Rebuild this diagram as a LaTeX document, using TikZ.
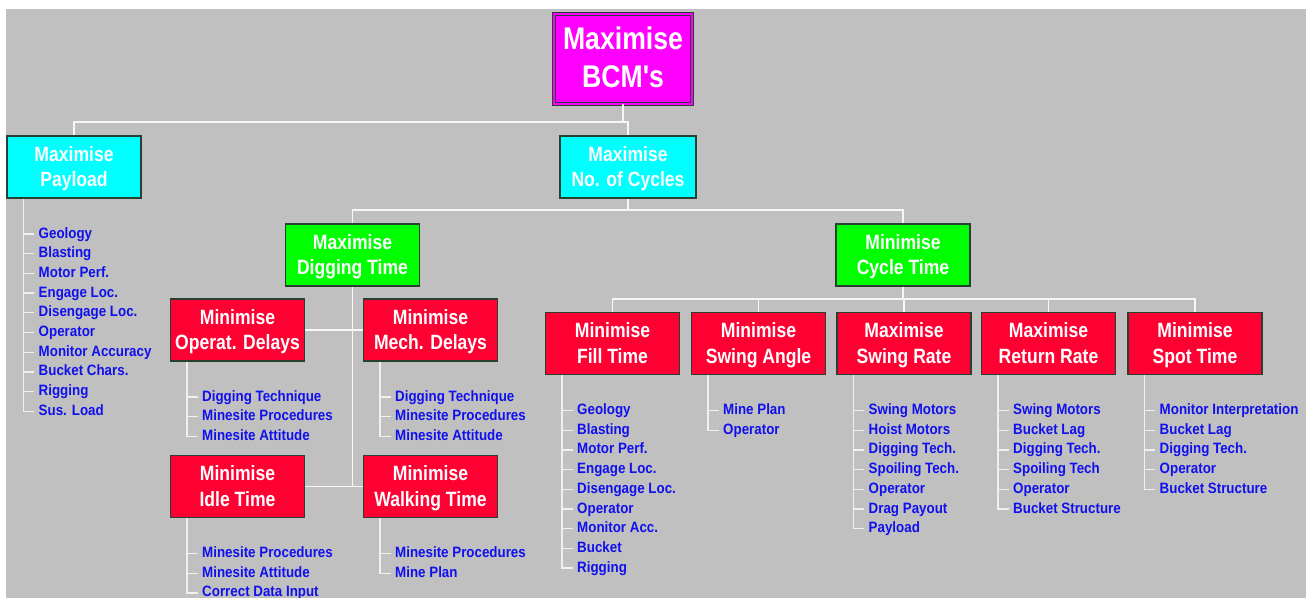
\documentclass[tikz,border=0pt]{standalone}
\usepackage{fontspec}
\setmainfont{Liberation Sans}
\newfontfamily\titlefont[FakeStretch=0.85]{Liberation Sans}
\newfontfamily\leaffont[FakeStretch=0.89]{Liberation Sans}
\usetikzlibrary{calc}
\definecolor{bg}{HTML}{C0C0C0}
\definecolor{boxred}{HTML}{FF0033}
\definecolor{boxcyan}{HTML}{00FFFF}
\definecolor{boxgreen}{HTML}{00FF00}
\definecolor{boxmag}{HTML}{FF00FF}
\definecolor{leafblue}{HTML}{1010EE}
\definecolor{edgecol}{HTML}{274030}
\newcommand\twolines[2]{#1\rule{0pt}{\dimexpr0.7\baselineskip+3pt\relax}\\#2\strut}
\newcommand\leaflist[3]{%
  \coordinate (#1v) at ($(#2.south west)+(17,0)$);
  \foreach \t [count=\i] in {#3} {
    \node[leaf] (#1\i) at ($(#1v)+(11,{35.5+19.7*(\i-1)})$) {\t};
    \draw[leafline] (#1\i.west) -- (#1\i.west -| #1v);
    \xdef\lastn{\i}
  }
  \draw[leafline] (#1v) |- (#1\lastn.west);
}
\begin{document}
\begin{tikzpicture}[x=0.75pt,y=-0.75pt,
  box/.style={draw=edgecol, line width=0.8pt, minimum width=100.5pt, minimum height=46.5pt,
    inner sep=0pt, align=center, text=white,
    font=\titlefont\bfseries\fontsize{15.5}{19}\selectfont},
  redbox/.style={box, fill=boxred},
  cyanbox/.style={box, fill=boxcyan},
  greenbox/.style={box, fill=boxgreen},
  leaf/.style={anchor=west, inner xsep=3pt, inner ysep=0pt, text=leafblue,
    text height=8pt, text depth=2pt,
    font=\leaffont\bfseries\fontsize{11.25}{13}\selectfont},
  link/.style={draw=white!97!black, line width=1.1pt},
  leafline/.style={draw=white!94!black, line width=1pt}]
\useasboundingbox (0,0) rectangle (1306,598);
\fill[white] (0,0) rectangle (1306,598);
\fill[bg] (6,9) rectangle (1306,598);

% boxes
\node[box, fill=boxmag, draw=edgecol, double=boxmag, double distance=2pt, line width=0.7pt,
  minimum width=103.5pt, minimum height=67.5pt,
  font=\titlefont\bfseries\fontsize{23.5}{28}\selectfont] (root) at (623,59) {\twolines{Maximise}{BCM's}};
\node[cyanbox] (payload) at (74,167) {\twolines{Maximise}{Payload}};
\node[cyanbox, minimum width=102pt] (cycles) at (628,167) {\twolines{Maximise}{No. of Cycles}};
\node[greenbox] (digging) at (352.5,255) {\twolines{Maximise}{Digging Time}};
\node[greenbox] (ct) at (903,255) {\twolines{Minimise}{Cycle Time}};
\node[redbox] (operat) at (237.5,330) {\twolines{Minimise}{Operat. Delays}};
\node[redbox] (mech) at (430.5,330) {\twolines{Minimise}{Mech. Delays}};
\node[redbox] (idle) at (237.5,486.5) {\twolines{Minimise}{Idle Time}};
\node[redbox] (walking) at (430.5,486.5) {\twolines{Minimise}{Walking Time}};
\node[redbox] (fill) at (612.5,343.5) {\twolines{Minimise}{Fill Time}};
\node[redbox] (angle) at (758.5,343.5) {\twolines{Minimise}{Swing Angle}};
\node[redbox] (rate) at (904,343.5) {\twolines{Maximise}{Swing Rate}};
\node[redbox] (return) at (1048.5,343.5) {\twolines{Maximise}{Return Rate}};
\node[redbox] (spot) at (1195,343.5) {\twolines{Minimise}{Spot Time}};

% tree connectors
\coordinate (j1) at (628,122);
\draw[link] (root.south) -- (root.south |- j1);
\draw[link] (payload.north) |- (j1) -- (cycles.north);
\coordinate (j2) at (628,210);
\draw[link] (cycles.south) -- (j2);
\draw[link] (digging.north) |- (j2) -| (ct.north);
\draw[link] (digging.south) -- (digging.south |- idle.east);
\draw[link] (operat.east) -- (mech.west);
\draw[link] (idle.east) -- (walking.west);
\coordinate (j4) at (903,299);
\draw[link] (ct.south) -- (j4);
\draw[link] (fill.north) |- (j4) -| (spot.north);
\draw[link] (angle.north) -- (angle.north |- j4);
\draw[link] (rate.north) -- (rate.north |- j4);
\draw[link] (return.north) -- (return.north |- j4);

% leaf lists
\leaflist{pl}{payload}{Geology,Blasting,Motor Perf.,Engage Loc.,Disengage Loc.,Operator,Monitor Accuracy,Bucket Chars.,Rigging,Sus. Load}
\leaflist{ol}{operat}{Digging Technique,Minesite Procedures,Minesite Attitude}
\leaflist{ml}{mech}{Digging Technique,Minesite Procedures,Minesite Attitude}
\leaflist{il}{idle}{Minesite Procedures,Minesite Attitude,Correct Data Input}
\leaflist{wl}{walking}{Minesite Procedures,Mine Plan}
\leaflist{fl}{fill}{Geology,Blasting,Motor Perf.,Engage Loc.,Disengage Loc.,Operator,Monitor Acc.,Bucket,Rigging}
\leaflist{al}{angle}{Mine Plan,Operator}
\leaflist{rl}{rate}{Swing Motors,Hoist Motors,Digging Tech.,Spoiling Tech.,Operator,Drag Payout,Payload}
\leaflist{tl}{return}{Swing Motors,Bucket Lag,Digging Tech.,Spoiling Tech,Operator,Bucket Structure}
\leaflist{sl}{spot}{Monitor Interpretation,Bucket Lag,Digging Tech.,Operator,Bucket Structure}
\end{tikzpicture}
\end{document}
